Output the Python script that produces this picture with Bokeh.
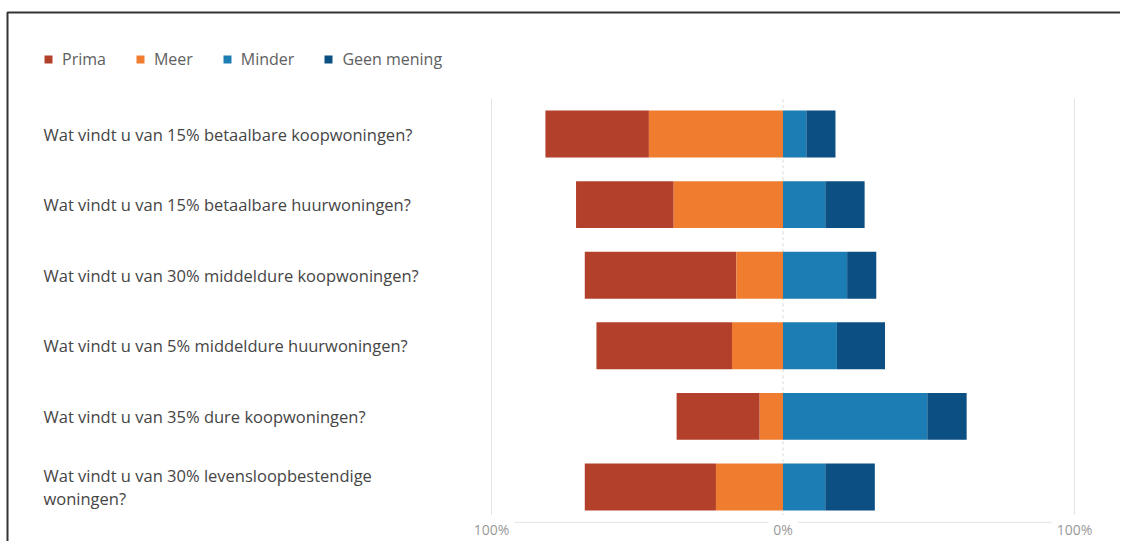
from bokeh.plotting import figure
from bokeh.models import (ColumnDataSource, Range1d, Legend, LegendItem,
                          LabelSet, BoxAnnotation)
from bokeh.core.properties import value
from bokeh.embed import file_html
from bokeh.resources import INLINE

questions = [
    "Wat vindt u van 15% betaalbare koopwoningen?",
    "Wat vindt u van 15% betaalbare huurwoningen?",
    "Wat vindt u van 30% middeldure koopwoningen?",
    "Wat vindt u van 5% middeldure huurwoningen?",
    "Wat vindt u van 35% dure koopwoningen?",
    "Wat vindt u van 30% levensloopbestendige\nwoningen?",
]
prima = [35.5, 33.5, 52, 46.5, 28.5, 45]
meer = [46, 37.5, 16, 17.5, 8, 23]
minder = [8, 14.5, 22, 18.5, 49.5, 14.5]
geen = [10, 13.5, 10, 16.5, 13.5, 17]
series_names = ["Prima", "Meer", "Minder", "Geen mening"]
colors = ["#B3402A", "#EF7C2F", "#1C7DB4", "#0C4F83"]
tick_values = [-100, 0, 100]
tick_labels = ["100%", "0%", "100%"]

n = len(questions)
ypos = [n - 1 - i for i in range(n)]          # first question on top
band_lo, band_hi = -0.5, n - 0.5              # extent of the plot band

src = ColumnDataSource(dict(
    y=ypos,
    label=questions,
    prima_l=[-(a + b) for a, b in zip(prima, meer)],
    prima_r=[-b for b in meer],
    meer_l=[-b for b in meer],
    meer_r=[0] * n,
    minder_l=[0] * n,
    minder_r=minder,
    geen_l=minder,
    geen_r=[a + b for a, b in zip(minder, geen)],
))

FONT = "Open Sans"
W, H = 1120, 541
# pixel layout of the value scale inside the canvas
px_per_unit = 2.915
zero_px = 782.5
x_start = -zero_px / px_per_unit
x_end = (W - zero_px) / px_per_unit
row_px = 70.6
top_row_px = 133.5
y_top = (n - 1) + top_row_px / row_px
y_bot = (n - 1) - (H - top_row_px) / row_px

p = figure(width=W, height=H, output_backend="svg", toolbar_location=None,
           x_range=Range1d(x_start, x_end), y_range=Range1d(y_bot, y_top),
           x_axis_location=None, y_axis_location=None,
           min_border=0)
p.outline_line_color = None
p.background_fill_color = "white"
p.border_fill_color = "white"
p.grid.visible = False

# grid lines at -100 / +100, dashed zero line, base axis line
p.segment(x0=[-100, 100], x1=[-100, 100], y0=[band_lo] * 2, y1=[band_hi] * 2,
          line_color="#e3e3e3", line_width=1)
p.segment(x0=[0], x1=[0], y0=[band_lo], y1=[band_hi],
          line_color="#d8d8d8", line_width=1, line_dash="3 3")
p.segment(x0=[-100], x1=[100], y0=[band_lo], y1=[band_lo],
          line_color="#e3e3e3", line_width=1)

renderers = []
for name, col, (l, r) in zip(series_names, colors,
                             [("prima_l", "prima_r"), ("meer_l", "meer_r"),
                              ("minder_l", "minder_r"), ("geen_l", "geen_r")]):
    rr = p.hbar(y="y", left=l, right=r, height=0.665, source=src,
                fill_color=col, line_color=None)
    renderers.append((name, rr))

# tick labels (white background hides the axis line behind them)
p.text(x=tick_values, y=[band_lo] * 3, text=tick_labels, y_offset=7,
       text_font=value(FONT), text_font_size="14px", text_color="#9a9a9a",
       text_align="center", text_baseline="middle",
       background_fill_color="white", padding=5)

labels = LabelSet(x=43, y="y", x_units="screen", y_units="data", text="label",
                  source=src, text_font=value(FONT), text_font_size="16.5px",
                  text_color="#454545", text_baseline="middle", text_align="left",
                  text_line_height=1.0)
p.add_layout(labels)

legend = Legend(items=[LegendItem(label=nm, renderers=[r]) for nm, r in renderers],
                orientation="horizontal", location=(43, 471),
                padding=0, margin=0, spacing=29, label_standoff=9,
                glyph_width=10, glyph_height=10, label_text_font=FONT,
                label_text_font_size="16px", label_text_color="#606060",
                background_fill_alpha=0, border_line_color=None)
p.add_layout(legend, "center")

# frame border of the original picture (top and left edges visible)
p.add_layout(BoxAnnotation(left=7, right=W + 20, bottom=-20, top=529,
                           left_units="screen", right_units="screen",
                           bottom_units="screen", top_units="screen",
                           fill_alpha=0, line_color="#333333", line_alpha=1.0,
                           line_width=2, level="overlay"))

open("out.html", "w").write(file_html(p, INLINE))
